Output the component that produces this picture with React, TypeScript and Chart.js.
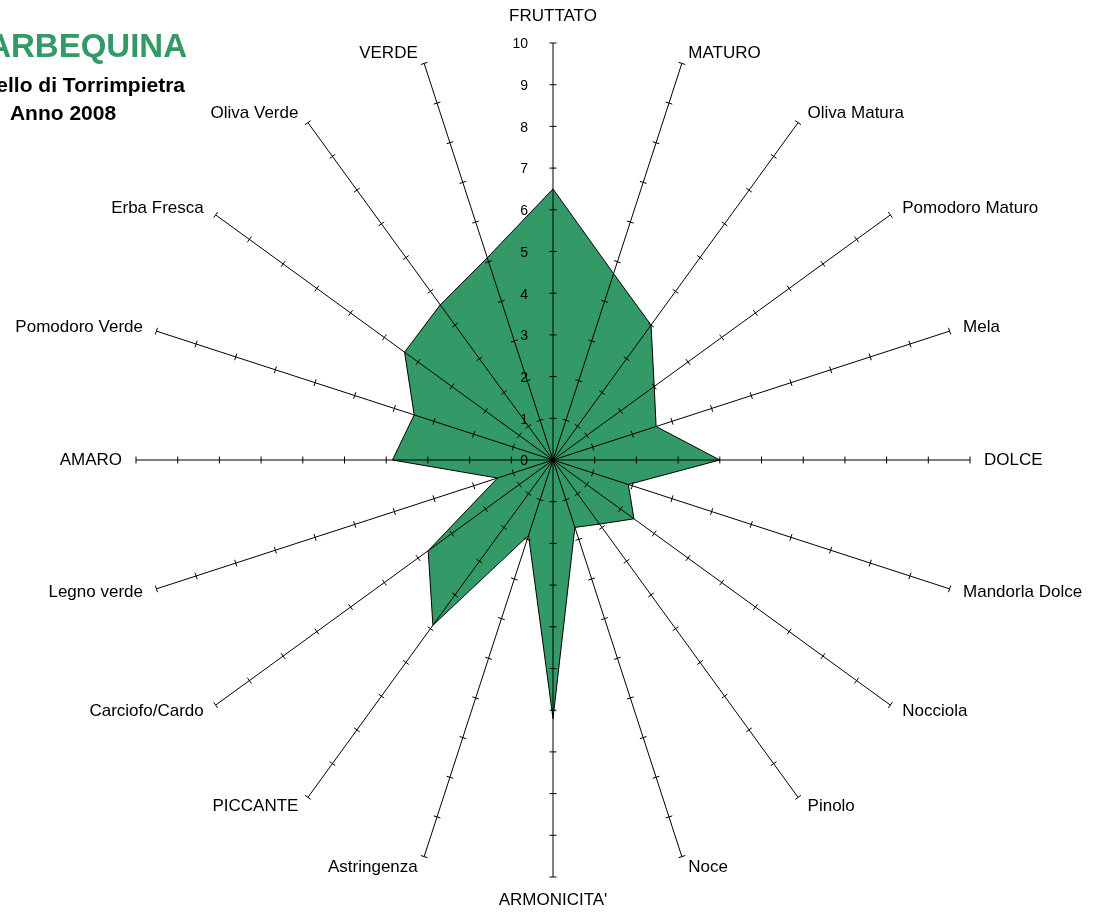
import React, { useEffect, useRef } from 'react';
import { Chart, registerables } from 'chart.js';

Chart.register(...registerables);

const categories = [
  'FRUTTATO', 'MATURO', 'Oliva Matura', 'Pomodoro Maturo', 'Mela', 'DOLCE',
  'Mandorla Dolce', 'Nocciola', 'Pinolo', 'Noce', "ARMONICITA'", 'Astringenza',
  'PICCANTE', 'Carciofo/Cardo', 'Legno verde', 'AMARO', 'Pomodoro Verde',
  'Erba Fresca', 'Oliva Verde', 'VERDE',
];
const values = [6.5, 4.7, 4.0, 3.0, 2.6, 4.0, 1.9, 2.4, 1.9, 1.7, 6.2, 1.9, 4.9, 3.7, 1.4, 3.85, 3.5, 4.4, 4.6, 5.1];
const tickValues = [0, 1, 2, 3, 4, 5, 6, 7, 8, 9, 10];
const titleText = 'ARBEQUINA';
const subtitleText = 'Castello di Torrimpietra';
const yearText = 'Anno 2008';

const FONT = '"Liberation Sans", Arial, sans-serif';
const GREEN = '#339966';

const overlayPlugin = {
  id: 'overlay',
  afterDraw(chart: any) {
    const scale = chart.scales.r;
    const ctx = chart.ctx as CanvasRenderingContext2D;
    const n = categories.length;
    const maxV = tickValues[tickValues.length - 1];
    ctx.save();
    ctx.strokeStyle = '#000';
    ctx.lineWidth = 1;
    // spokes, drawn over the filled area
    for (let i = 0; i < n; i++) {
      const c0 = scale.getPointPositionForValue(i, 0);
      const end = scale.getPointPositionForValue(i, maxV);
      ctx.beginPath();
      ctx.moveTo(c0.x, c0.y);
      ctx.lineTo(end.x, end.y);
      ctx.stroke();
    }
    // tick marks on every spoke
    for (let i = 0; i < n; i++) {
      const a = scale.getIndexAngle(i);
      const px = Math.cos(a);
      const py = Math.sin(a);
      for (const v of tickValues) {
        if (v === 0) continue;
        const p = scale.getPointPositionForValue(i, v);
        ctx.beginPath();
        ctx.moveTo(p.x - px * 3.5, p.y - py * 3.5);
        ctx.lineTo(p.x + px * 3.5, p.y + py * 3.5);
        ctx.stroke();
      }
    }
    // tick labels on the first spoke
    ctx.fillStyle = '#000';
    ctx.font = `14px ${FONT}`;
    ctx.textAlign = 'right';
    ctx.textBaseline = 'middle';
    for (const v of tickValues) {
      const p = scale.getPointPositionForValue(0, v);
      ctx.fillText(String(v), p.x - 25, p.y + 1.5);
    }
    // point labels
    ctx.font = `17px ${FONT}`;
    for (let i = 0; i < n; i++) {
      const a = scale.getIndexAngle(i);
      const s = Math.sin(a);
      const c = Math.cos(a);
      const end = scale.getPointPositionForValue(i, maxV);
      let x = end.x;
      let y: number;
      if (Math.abs(s) < 0.01) {
        ctx.textAlign = 'center';
        y = c > 0 ? end.y - 27 : end.y + 23;
      } else {
        ctx.textAlign = s > 0 ? 'left' : 'right';
        x = end.x + Math.sign(s) * (3 + 11 * Math.abs(s));
        y = end.y - 11 * c;
      }
      ctx.fillText(categories[i], x, y);
    }
    // titles
    ctx.textBaseline = 'alphabetic';
    ctx.fillStyle = GREEN;
    ctx.font = `bold 33px ${FONT}`;
    ctx.textAlign = 'right';
    ctx.fillText(titleText, 187, 57);
    ctx.fillStyle = '#000';
    ctx.font = `bold 21px ${FONT}`;
    ctx.fillText(subtitleText, 185, 92);
    ctx.textAlign = 'center';
    ctx.fillText(yearText, 63, 120);
    ctx.restore();
  },
};

export default function App() {
  const ref = useRef<HTMLCanvasElement | null>(null);
  useEffect(() => {
    if (!ref.current) return;
    const chart = new Chart(ref.current, {
      type: 'radar',
      data: {
        labels: categories,
        datasets: [
          {
            data: values,
            backgroundColor: GREEN,
            borderColor: '#000',
            borderWidth: 1,
            pointRadius: 0,
            fill: true,
            tension: 0,
          },
        ],
      },
      options: {
        animation: false,
        responsive: false,
        devicePixelRatio: 1,
        layout: { padding: { left: 136, right: 123, top: 43, bottom: 35 } },
        plugins: { legend: { display: false }, tooltip: { enabled: false } },
        scales: {
          r: {
            min: 0,
            max: 10,
            grid: { display: false },
            angleLines: { display: false },
            ticks: { display: false, stepSize: 1 },
            pointLabels: { display: false },
          },
        },
      },
      plugins: [overlayPlugin],
    });
    return () => chart.destroy();
  }, []);
  return (
    <div style={{ position: 'fixed', left: 0, top: 0, width: 1094, height: 912, background: '#fff' }}>
      <canvas ref={ref} width={1094} height={912} style={{ width: 1094, height: 912, display: 'block' }} />
    </div>
  );
}
